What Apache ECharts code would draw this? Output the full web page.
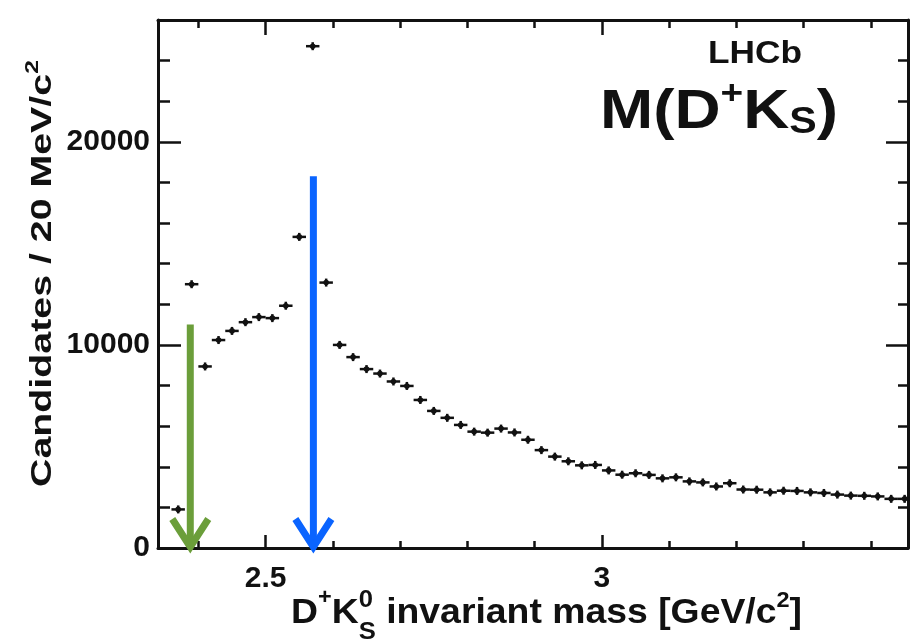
<!DOCTYPE html>
<html><head><meta charset="utf-8">
<script src="https://cdn.jsdelivr.net/npm/echarts@6/dist/echarts.min.js"></script>
<style>html,body{margin:0;padding:0;background:#fff}#c{width:910px;height:644px}</style>
</head><body><div id="c"></div>
<script>
// ---- data ----
const massGeV = [2.37,2.39,2.41,2.43,2.45,2.47,2.49,2.51,2.53,2.55,2.57,2.59,2.61,2.63,2.65,2.67,2.69,2.71,2.73,2.75,2.77,2.79,2.81,2.83,2.85,2.87,2.89,2.91,2.93,2.95,2.97,2.99,3.01,3.03,3.05,3.07,3.09,3.11,3.13,3.15,3.17,3.19,3.21,3.23,3.25,3.27,3.29,3.31,3.33,3.35,3.37,3.39,3.41,3.43,3.45];
const candidates = [1900,12990,8940,10240,10690,11120,11370,11320,11930,15320,24710,13070,10000,9400,8810,8590,8200,7980,7290,6750,6410,6060,5730,5680,5880,5690,5330,4820,4500,4270,4070,4090,3820,3610,3680,3600,3430,3480,3280,3230,3030,3190,2880,2870,2740,2820,2810,2740,2710,2630,2580,2570,2540,2420,2420];
const binHalfWidth = 0.01;
const xMin = 2.34, xMax = 3.455;
const yMin = 0, yMax = 26000;
const xMajorTicks = [2.5, 3.0];
const xMinorTicks = [2.4, 2.6, 2.7, 2.8, 2.9, 3.1, 3.2, 3.3, 3.4];
const xLabels = [2.5, 3];
const yMajorTicks = [0, 10000, 20000];
const yMinorTicks = [2000, 4000, 6000, 8000, 12000, 14000, 16000, 18000, 22000, 24000];
const yLabels = [0, 10000, 20000];
const arrowX = [2.388, 2.571];
const arrowTop = [11000, 18300];
const arrowColors = ['#6b9e3a', '#0a64ff'];

// ---- helpers ----
const F = '"Liberation Sans", Arial, Helvetica, sans-serif';
const INK = '#111';
const mctx = document.createElement('canvas').getContext('2d');
function tw(t, size) { mctx.font = 'bold ' + size + 'px ' + F; return mctx.measureText(t).width; }
// pieces: {t, size, rise, noAdv}
function composite(pieces, x, y, targetW, rotation) {
  let cx = 0; const children = [];
  pieces.forEach(p => {
    const adv = tw(p.t, p.size);
    children.push({
      type: 'text', x: cx, y: -(p.rise || 0) - 0.3465 * p.size,
      style: { text: p.t, fontSize: p.size, fontWeight: 'bold', fontFamily: F, fill: INK, align: 'left', verticalAlign: 'middle' }
    });
    if (!p.noAdv) cx += adv;
  });
  const s = targetW / cx;
  return { type: 'group', x: x, y: y, rotation: rotation || 0, scaleX: s, scaleY: 1, children: children, silent: true };
}

const chart = echarts.init(document.getElementById('c'));

function xAx(pos, ticks, len, line, labels) {
  return {
    type: 'value', position: pos, min: xMin, max: xMax, gridIndex: 0,
    splitLine: { show: false },
    axisLine: { show: line, onZero: false, lineStyle: { color: INK, width: 3 } },
    axisTick: { show: true, inside: true, length: len, customValues: ticks, lineStyle: { color: INK, width: 2.5 } },
    axisLabel: labels ? { show: true, customValues: labels, margin: 16, fontSize: 30, fontWeight: 'bold', fontFamily: F, color: INK, formatter: v => String(v) } : { show: false }
  };
}
function yAx(pos, ticks, len, line, labels) {
  return {
    type: 'value', position: pos, min: yMin, max: yMax, gridIndex: 0,
    splitLine: { show: false },
    axisLine: { show: line, onZero: false, lineStyle: { color: INK, width: 3 } },
    axisTick: { show: true, inside: true, length: len, customValues: ticks, lineStyle: { color: INK, width: 2.5 } },
    axisLabel: labels ? { show: true, customValues: labels, margin: 8, fontSize: 30, fontWeight: 'bold', fontFamily: F, color: INK, formatter: v => String(v) } : { show: false }
  };
}

const option = {
  backgroundColor: '#fff',
  animation: false,
  grid: { left: 158, right: 2, top: 20, bottom: 96, containLabel: false, outerBoundsMode: 'none' },
  xAxis: [
    xAx('bottom', xMajorTicks, 13, true, xLabels),
    xAx('bottom', xMinorTicks, 7, false, null),
    xAx('top', xMajorTicks, 15, true, null),
    xAx('top', xMinorTicks, 8, false, null)
  ],
  yAxis: [
    yAx('left', yMajorTicks, 23, true, yLabels),
    yAx('left', yMinorTicks, 12, false, null),
    yAx('right', yMajorTicks, 22, true, null),
    yAx('right', yMinorTicks, 10, false, null)
  ],
  series: [
    {
      type: 'custom', xAxisIndex: 0, yAxisIndex: 0, silent: true,
      data: massGeV.map((m, i) => [m, candidates[i]]),
      renderItem: function (params, api) {
        const x = api.value(0), y = api.value(1);
        const c = api.coord([x, y]);
        const l = api.coord([x - binHalfWidth, y]);
        const r = api.coord([x + binHalfWidth, y]);
        return { type: 'group', children: [
          { type: 'line', shape: { x1: l[0], y1: c[1], x2: r[0], y2: c[1] }, style: { stroke: INK, lineWidth: 2.5 } },
          { type: 'line', shape: { x1: c[0], y1: c[1] - 4, x2: c[0], y2: c[1] + 4 }, style: { stroke: INK, lineWidth: 2.5 } },
          { type: 'circle', shape: { cx: c[0], cy: c[1], r: 2.8 }, style: { fill: INK } }
        ]};
      }
    },
    {
      type: 'custom', xAxisIndex: 0, yAxisIndex: 0, silent: true, clip: false, z: 5,
      data: arrowX.map((x, i) => [x, arrowTop[i]]),
      renderItem: function (params, api) {
        const x = api.value(0), top = api.value(1);
        const p1 = api.coord([x, top]);
        const p0 = api.coord([x, 0]);
        const col = arrowColors[params.dataIndex];
        return { type: 'group', children: [
          { type: 'line', shape: { x1: p1[0], y1: p1[1], x2: p0[0], y2: p0[1] - 4 }, style: { stroke: col, lineWidth: 7 } },
          { type: 'polyline', shape: { points: [[p0[0] - 18, p0[1] - 29], [p0[0], p0[1] - 1], [p0[0] + 18, p0[1] - 29]] }, style: { stroke: col, lineWidth: 7, fill: null, lineJoin: 'miter' } }
        ]};
      }
    }
  ],
  graphic: [
    // y-axis title, rotated
    composite([
      { t: 'Candidates / 20 MeV/c', size: 30 },
      { t: '2', size: 19, rise: 14 }
    ], 53, 487, 427, Math.PI / 2),
    // x-axis title
    composite([
      { t: 'D', size: 35 },
      { t: '+', size: 22, rise: 19 },
      { t: 'K', size: 35 },
      { t: '0', size: 24, rise: 16, noAdv: true },
      { t: 'S', size: 24, rise: -16 },
      { t: ' invariant mass [GeV/c', size: 35 },
      { t: '2', size: 22, rise: 16 },
      { t: ']', size: 35 }
    ], 291, 625, 511),
    // LHCb label
    composite([{ t: 'LHCb', size: 32 }], 708, 65, 94),
    // M(D+Ks)
    composite([
      { t: 'M(D', size: 56 },
      { t: '+', size: 34, rise: 26 },
      { t: 'K', size: 56 },
      { t: 'S', size: 36, rise: -4 },
      { t: ')', size: 56 }
    ], 600, 132, 238)
  ]
};
chart.setOption(option);
</script>
</body></html>
